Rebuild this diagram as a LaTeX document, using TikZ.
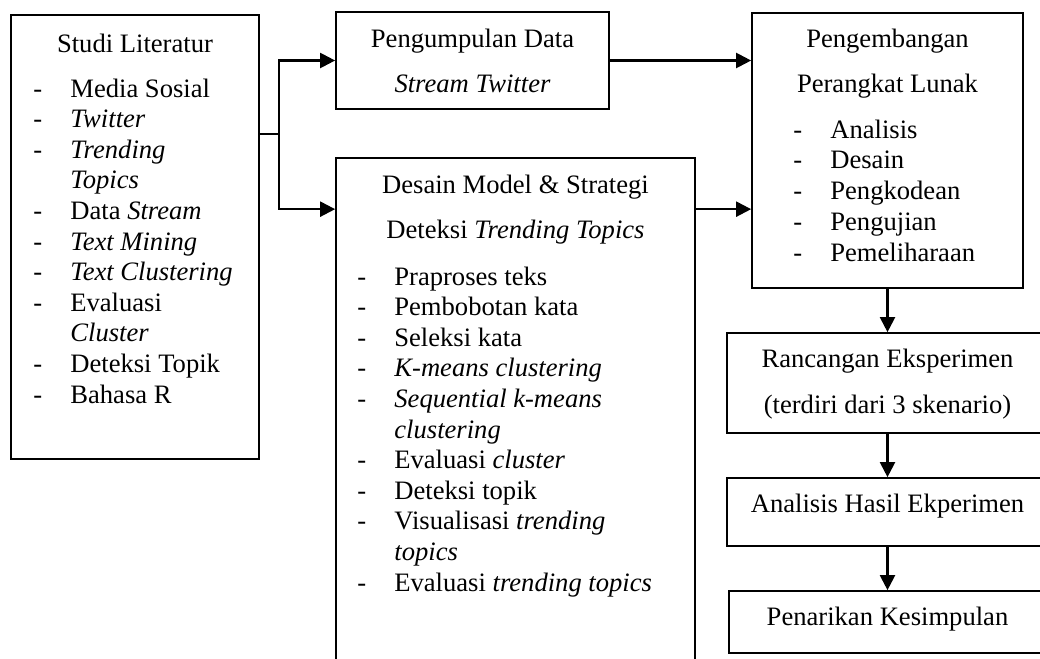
\documentclass[tikz,border=0pt]{standalone}
\usepackage{fontspec}
\setmainfont{Liberation Serif}
\usetikzlibrary{arrows.meta}

\newcommand{\itemdash}{\makebox[18.5pt][l]{-}}

\tikzset{
  box/.style={draw, line width=0.85pt, inner sep=0pt},
  ttl/.style={inner sep=0pt, anchor=base},
  itm/.style={inner sep=0pt, anchor=base west},
  flow/.style={line width=1.1pt, -{Triangle[length=7.5pt,width=7.5pt]}},
}

\begin{document}
\begin{tikzpicture}[x=0.5pt, y=-0.5pt, font=\fontsize{13.3}{15.3}\selectfont]
\useasboundingbox (0,0) rectangle (1040,659);
\clip (0,0) rectangle (1040,659);

% kotak-kotak
\node[box, minimum width=124pt, minimum height=222pt]   (L) at (135,237)   {};
\node[box, minimum width=136.5pt, minimum height=48.5pt] (P) at (472.5,60.5) {};
\node[box, minimum width=179.5pt, minimum height=271pt] (M) at (515.5,429) {};
\node[box, minimum width=135.5pt, minimum height=137.5pt] (S) at (887.5,150.5) {};
\node[box, minimum width=160.5pt, minimum height=50pt]  (R) at (887.5,383) {};
\node[box, minimum width=160.5pt, minimum height=34pt]  (A) at (887.5,512) {};
\node[box, minimum width=158.5pt, minimum height=31pt]  (K) at (887.5,622) {};

% studi literatur
\node[ttl] (L0)  at (135,52)  {Studi Literatur};
\node[itm] (L1)  at (33,97)   {\itemdash Media Sosial};
\node[itm] (L2)  at (33,127.6) {\itemdash\textit{Twitter}};
\node[itm] (L3)  at (33,158.2) {\itemdash\textit{Trending}};
\node[itm] (L4)  at (70,188.8) {\textit{Topics}};
\node[itm] (L5)  at (33,219.4) {\itemdash Data \textit{Stream}};
\node[itm] (L6)  at (33,250)   {\itemdash\textit{Text Mining}};
\node[itm] (L7)  at (33,280.6) {\itemdash\textit{Text Clustering}};
\node[itm] (L8)  at (33,311.2) {\itemdash Evaluasi};
\node[itm] (L9)  at (70,341.8) {\textit{Cluster}};
\node[itm] (L10) at (33,372.4) {\itemdash Deteksi Topik};
\node[itm] (L11) at (33,403)   {\itemdash Bahasa R};

% pengumpulan data
\node[ttl] (P0) at (472.5,47) {Pengumpulan Data};
\node[ttl] (P1) at (472.5,92) {\textit{Stream Twitter}};

% desain model
\node[ttl] (M0)  at (515.5,193) {Desain Model \& Strategi};
\node[ttl] (M00) at (515.5,238) {Deteksi \textit{Trending Topics}};
\node[itm] (M1)  at (357,285)   {\itemdash Praproses teks};
\node[itm] (M2)  at (357,315.6) {\itemdash Pembobotan kata};
\node[itm] (M3)  at (357,346.2) {\itemdash Seleksi kata};
\node[itm] (M4)  at (357,376.8) {\itemdash\textit{K-means clustering}};
\node[itm] (M5)  at (357,407.4) {\itemdash\textit{Sequential k-means}};
\node[itm] (M6)  at (394,438)   {\textit{clustering}};
\node[itm] (M7)  at (357,468.6) {\itemdash Evaluasi \textit{cluster}};
\node[itm] (M8)  at (357,499.2) {\itemdash Deteksi topik};
\node[itm] (M9)  at (357,529.8) {\itemdash Visualisasi \textit{trending}};
\node[itm] (M10) at (394,560.4) {\textit{topics}};
\node[itm] (M11) at (357,591)   {\itemdash Evaluasi \textit{trending topics}};

% pengembangan perangkat lunak
\node[ttl] (S0)  at (887.5,47)  {Pengembangan};
\node[ttl] (S00) at (887.5,92)  {Perangkat Lunak};
\node[itm] (S1)  at (793,138)   {\itemdash Analisis};
\node[itm] (S2)  at (793,168.8) {\itemdash Desain};
\node[itm] (S3)  at (793,199.6) {\itemdash Pengkodean};
\node[itm] (S4)  at (793,230.4) {\itemdash Pengujian};
\node[itm] (S5)  at (793,261.2) {\itemdash Pemeliharaan};

% eksperimen dan kesimpulan
\node[ttl] (R0) at (887.5,367) {Rancangan Eksperimen};
\node[ttl] (R1) at (887.5,413) {(terdiri dari 3 skenario)};
\node[ttl] (A0) at (887.5,512) {Analisis Hasil Ekperimen};
\node[ttl] (K0) at (887.5,625) {Penarikan Kesimpulan};

% panah
\coordinate (B)  at (279,134);
\coordinate (Mw) at ([yshift=-26pt]M.north west);
\coordinate (Me) at ([yshift=-26pt]M.north east);
\draw[line width=1.1pt] (L.east |- B) -- (B);
\draw[flow] (B) |- (P.west);
\draw[flow] (B) |- (Mw);
\draw[flow] (P.east) -- (S.west |- P.east);
\draw[flow] (Me) -- (S.west |- Me);
\draw[flow] (S) -- (R);
\draw[flow] (R) -- (A);
\draw[flow] (A) -- (K);
\end{tikzpicture}
\end{document}
